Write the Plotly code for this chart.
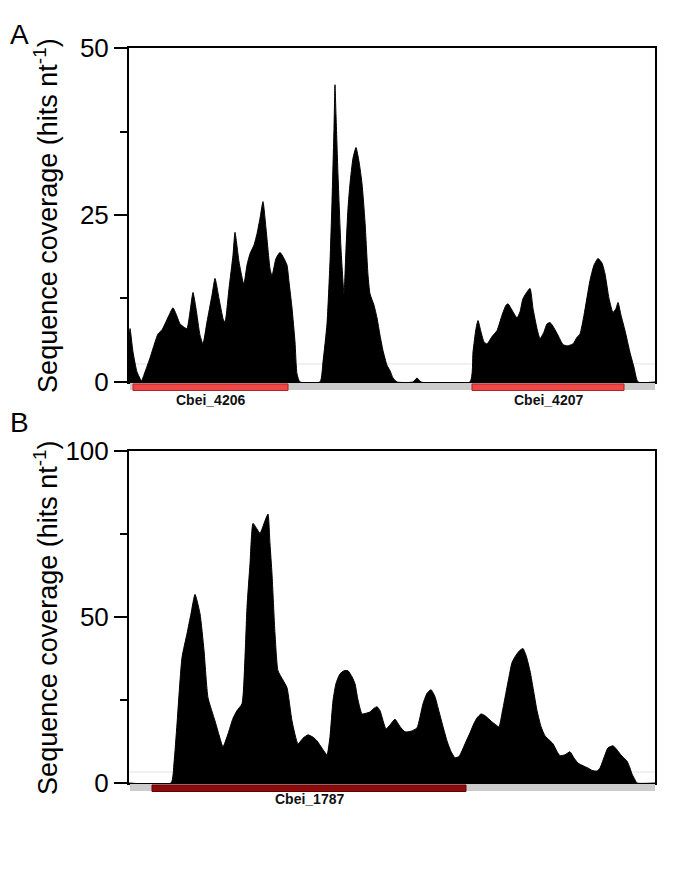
import plotly.graph_objects as go

# ── Panel A: coverage across Cbei_4206 / Cbei_4207 region ──────────────────
pos_a = [0, 1, 4, 8, 12.5, 16, 21, 25, 29, 33, 36, 40, 44, 47, 51, 55, 58, 61, 64, 67,
         71, 74, 78, 83, 86, 90, 94, 96, 100, 104, 106, 110, 114, 115, 118, 121, 125,
         128, 131, 134, 137, 141, 143, 147, 151, 155, 158, 160, 163, 166, 168, 171,
         191, 194, 198, 201, 203, 205, 206, 207, 209, 212, 215, 217, 219, 221, 224,
         227, 230, 233, 236, 239, 241, 245, 248, 251, 254, 258, 261, 264, 268,
         284, 288, 292,
         341, 344, 347, 349, 352, 355, 358, 363, 368, 373, 377, 379, 384, 388, 391,
         394, 401, 404, 408, 411, 415, 418, 421, 425, 429, 434, 438, 444, 448, 451,
         455, 461, 465, 469, 473, 476, 480, 484, 487, 489, 492, 496, 501, 505, 509, 526]
cov_a = [6, 8, 4.5, 1.5, 0.2, 1.5, 3.6, 5.5, 7.2, 7.8, 8.7, 10.0, 11.1, 10.2, 8.7, 8.2, 8.0, 10.5, 13.4, 11,
         7, 5.7, 9, 13, 15.5, 12.5, 9.5, 8.9, 14, 19, 22.4, 18, 15, 14.7, 17.5, 19.2, 20.5,
         22.2, 24.5, 27.0, 23, 17, 15.9, 18.5, 19.4, 18.5, 17.5, 15, 11.1, 6, 1.2, 0,
         0, 3, 8.7, 18, 27, 38, 44.5, 40, 31, 20, 13.2, 20, 26, 29.7, 33.5,
         35.1, 33, 29.7, 24, 16, 13.2, 11.5, 9.6, 7, 4.7, 2.5, 1.7, 0.6, 0,
         0, 0.6, 0,
         0, 4.5, 8, 9.2, 7.5, 6, 5.7, 6.8, 7.7, 10, 11.5, 11.7, 10.5, 9.6, 10.5,
         12.5, 14.0, 11, 8, 6.5, 7.5, 8.7, 8.9, 8.1, 7, 5.6, 5.4, 5.7, 6.7, 7.2,
         10, 15.2, 17.5, 18.5, 17.8, 16.2, 12.5, 10.4, 11.0, 11.9, 10, 7.7, 4.4, 2.2, 0, 0]

# ── Panel B: coverage across Cbei_1787 region ──────────────────────────────
pos_b = [0, 42, 45, 48, 53, 58, 62, 66, 71, 75, 79, 86, 90, 94, 99, 104, 108, 113, 116,
         118, 121, 124, 128, 131, 136, 139, 141, 143, 146, 149, 154, 158, 163, 169,
         174, 179, 184, 188, 193, 198, 201, 204, 207, 211, 215, 219, 223, 226, 229,
         233, 237, 241, 245, 248, 251, 257, 261, 266, 271, 276, 282, 288, 294, 298,
         302, 306, 309, 314, 318, 322, 326, 330, 333, 337, 341, 345, 348, 352, 355,
         359, 363, 367, 370, 373, 376, 380, 383, 387, 391, 394, 397, 401, 405, 408,
         412, 416, 420, 424, 428, 431, 436, 441, 445, 449, 454, 459, 463, 468, 471,
         473, 476, 479, 484, 488, 491, 495, 498, 501, 503, 506, 508, 526]
cov_b = [0, 0, 6, 17.8, 37.8, 45, 51, 56.8, 51, 40, 25.7, 18.7, 14.5, 10.9, 14.8, 19.5, 21.8, 23.9, 38,
         52.9, 66, 78.2, 76.5, 75.2, 79, 81, 72, 63, 45, 33.8, 31, 28.7, 18.7, 11.8,
         13.5, 14.5, 13.8, 12.7, 10.5, 8.5, 14, 24.8, 30, 32.9, 33.8, 33.8, 32, 29.9, 25,
         20.8, 21, 21.4, 22.5, 23, 21.8, 16.3, 17.5, 19.2, 17, 15.4, 15.6, 16.6, 23.9, 27,
         28.1, 26, 22.7, 17, 12.7, 9.5, 7.6, 8, 9.7, 12.5, 15.1, 18, 19.6, 20.8, 20.5,
         19.5, 18.4, 17.5, 16.9, 21, 25.7, 32, 36.3, 38.5, 40, 40.5, 38.5, 33.8, 27, 21.8,
         17, 14.2, 13, 11.8, 9.5, 8.2, 8.5, 9.4, 7.5, 6, 5.2, 4.5, 3.8, 3.6, 4.5,
         6, 8.5, 10.6, 11.2, 10, 8.8, 7.5, 6.6, 4.5, 2.7, 1, 0, 0]

# gene annotations (start, end) in the same position units
genes_a = ["Cbei_4206", "Cbei_4207"]
gene_start_a = [4, 343]
gene_end_a = [159, 495]
genes_b = ["Cbei_1787"]
gene_start_b = [23]
gene_end_b = [337]

track_span = [1, 526]
baseline_a = 2.7   # faint reference line
baseline_b = 3.3

FONT = "Liberation Sans, Arial, sans-serif"
H_A, H_B = 334, 332   # panel heights in px, used to place tracks below axes

fig = go.Figure()

for xs, ys, xa, ya in ((pos_a, cov_a, "x", "y"), (pos_b, cov_b, "x2", "y2")):
    fig.add_trace(go.Scatter(x=xs, y=ys, mode="lines", fill="tozeroy",
                             line=dict(color="black", width=1, shape="spline", smoothing=0.5),
                             fillcolor="black", xaxis=xa, yaxis=ya,
                             hoverinfo="skip", showlegend=False))

shapes = []
annotations = []


def add_track(xref, yref, h, starts, ends, names, color, edge, label_off):
    # grey annotation track
    shapes.append(dict(type="rect", xref=xref, yref=yref + " domain",
                       x0=track_span[0], x1=track_span[1],
                       y0=-1.0 / h, y1=-8.0 / h,
                       fillcolor="#cccccc", line=dict(width=0), layer="above"))
    for s, e, n in zip(starts, ends, names):
        shapes.append(dict(type="rect", xref=xref, yref=yref + " domain",
                           x0=s, x1=e, y0=-2.0 / h, y1=-8.5 / h,
                           fillcolor=color, line=dict(color=edge, width=1), layer="above"))
        annotations.append(dict(x=(s + e) / 2, y=-label_off / h, xref=xref,
                                yref=yref + " domain", text="<b>" + n + "</b>",
                                showarrow=False, xanchor="center", yanchor="middle",
                                font=dict(family=FONT, size=14, color="#111111")))


add_track("x", "y", H_A, gene_start_a, gene_end_a, genes_a, "#f04848", "#b02020", 18)
add_track("x2", "y2", H_B, gene_start_b, gene_end_b, genes_b, "#8b0c0c", "#6a0000", 16)

# faint reference lines
for yref, val in (("y", baseline_a), ("y2", baseline_b)):
    shapes.append(dict(type="line", xref=("x" if yref == "y" else "x2") + " domain",
                       yref=yref, x0=0, x1=1, y0=val, y1=val,
                       line=dict(color="#e2e2e2", width=1), layer="below"))

title_txt = "Sequence coverage (hits nt<sup>-1</sup>)"
for yref in ("y", "y2"):
    annotations.append(dict(x=-0.158, y=0.5, xref="paper", yref=yref + " domain",
                            text=title_txt, textangle=-90, showarrow=False,
                            xanchor="center", yanchor="middle",
                            font=dict(family=FONT, size=27, color="black")))

annotations.append(dict(x=-0.208, y=1.019, xref="paper", yref="paper", text="A",
                        showarrow=False, xanchor="center", yanchor="middle",
                        font=dict(family=FONT, size=28, color="black")))
annotations.append(dict(x=-0.208, y=0.491, xref="paper", yref="paper", text="B",
                        showarrow=False, xanchor="center", yanchor="middle",
                        font=dict(family=FONT, size=28, color="black")))

xax = dict(range=[0, 526], showline=True, linecolor="black", linewidth=2, mirror=True,
           showgrid=False, zeroline=False, showticklabels=False, ticks="", fixedrange=True)


def yax(rng, dtick, domain):
    return dict(range=rng, domain=domain, showline=True, linecolor="black", linewidth=2,
                mirror=True, showgrid=False, zeroline=False, ticks="outside",
                ticklen=13, tickwidth=2, tickcolor="black", dtick=dtick,
                tickfont=dict(family=FONT, size=26, color="black"),
                minor=dict(dtick=dtick / 2, ticks="outside", ticklen=7, tickwidth=2,
                           tickcolor="black", showgrid=False))


# page body adds an 8px offset, so margins are trimmed to land the frame in place
fig.update_layout(
    width=685, height=880, autosize=False,
    margin=dict(l=121, r=38, t=40, b=105),
    paper_bgcolor="white", plot_bgcolor="white",
    xaxis=dict(xax, anchor="y"),
    yaxis=yax([0, 50], 25, [0.5456, 1.0]),
    xaxis2=dict(xax, anchor="y2"),
    yaxis2=yax([0, 100], 50, [0.0, 0.4517]),
    shapes=shapes,
    annotations=annotations,
    showlegend=False,
)

fig.write_html("out.html")
